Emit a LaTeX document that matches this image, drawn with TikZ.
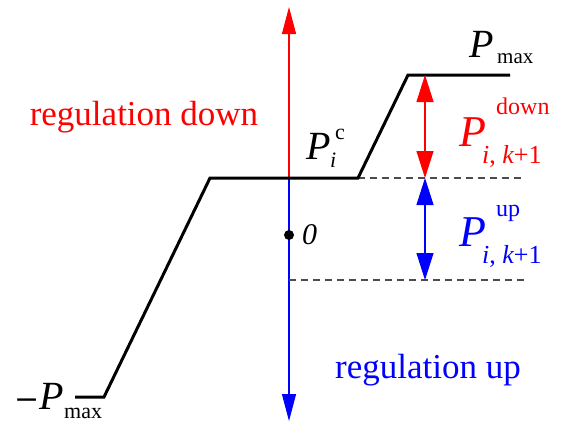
\documentclass[tikz,border=0pt]{standalone}
\usepackage{fontspec}
\setmainfont{Liberation Serif}
\usetikzlibrary{arrows.meta}
\definecolor{rd}{RGB}{255,0,0}
\definecolor{bl}{RGB}{0,0,255}
\tikzset{
  curve/.style={line width=3pt, black},
  axisline/.style={line width=1.2pt},
  guide/.style={line width=1.3pt, dashed, dash pattern=on 7pt off 5pt, black!70},
  tip/.style={-{Triangle[length=27pt,width=14pt]}},
  dtip/.style={{Triangle[length=27pt,width=17pt]}-{Triangle[length=27pt,width=17pt]}},
  big/.style={font=\fontsize{35}{38}\selectfont, inner sep=0pt},
  bigP/.style={font=\fontsize{44}{46}\selectfont\itshape, inner sep=0pt},
  midP/.style={font=\fontsize{40}{42}\selectfont\itshape, inner sep=0pt},
  scr/.style={font=\fontsize{22}{24}\selectfont, inner sep=0pt},
  sub/.style={font=\fontsize{26}{28}\selectfont, inner sep=0pt},
}
\begin{document}
\begin{tikzpicture}[x=1pt,y=-1pt]
\useasboundingbox (0,0) rectangle (561,437);
% coordinates
\coordinate (o) at (289,178);
\coordinate (top) at (289,7);
\coordinate (bot) at (289,421);
\coordinate (c1) at (75,397);
\coordinate (c2) at (104,397);
\coordinate (c3) at (210,178);
\coordinate (c4) at (358,178);
\coordinate (c5) at (408,75);
\coordinate (c6) at (510,75);
\coordinate (d1e) at (525,178);
\coordinate (d2s) at (289,280);
\coordinate (d2e) at (525,280);
\coordinate (a1) at (425,75);
\coordinate (a2) at (425,178);
\coordinate (a3) at (425,280);
% axis
\draw[axisline, rd, tip] (o) -- (top);
\draw[axisline, bl, tip] (o) -- (bot);
% dashed guides
\draw[guide] (c4) -- (d1e);
\draw[guide] (d2s) -- (d2e);
% curve
\draw[curve, line join=miter] (c1) -- (c2) -- (c3) -- (c4) -- (c5) -- (c6);
% double arrows
\draw[axisline, rd, dtip] (a1) -- (a2);
\draw[axisline, bl, dtip] (a2) -- (a3);
% origin
\fill (289,235) circle (5pt) node (zero) [anchor=west, xshift=13pt, big, font=\fontsize{30}{32}\selectfont\itshape] {0};
% texts
\node[big, rd] (rdown) at (144,117) {regulation down};
\node[big, bl] (rup) at (428,370) {regulation up};
% P_max top
\node[midP, anchor=base west] (pm) at (469,57) {P};
\node[scr, anchor=base west, font=\fontsize{21}{23}\selectfont] (pms) at (497,63) {max};
% -P_max
\node[midP, anchor=base west] (mpm) at (14,409) {\upshape\fontspec{DejaVu Serif}\fontsize{30}{32}\selectfont{}−\itshape\fontspec{Liberation Serif}\fontsize{40}{42}\selectfont P};
\node[scr, anchor=base west] (mpms) at (64,418) {max};
% P_i^c
\node[midP, anchor=base west] (pc) at (306,159) {P};
\node[scr, anchor=base west] (pcs) at (335,139) {c};
\node[scr, anchor=base west, font=\fontsize{22}{24}\selectfont\itshape] (pci) at (330,167) {i};
% P down
\node[bigP, rd, anchor=base west] (pd) at (459,146) {P};
\node[scr, rd, anchor=base west, font=\fontsize{24}{26}\selectfont] (pds) at (496,114) {down};
\node[sub, rd, anchor=base west] (pdi) at (482,163) {\itshape i\upshape, \itshape k\upshape+1};
% P up
\node[bigP, bl, anchor=base west] (pu) at (459,246) {P};
\node[scr, bl, anchor=base west, font=\fontsize{24}{26}\selectfont] (pus) at (496,216) {up};
\node[sub, bl, anchor=base west] (pui) at (482,263) {\itshape i\upshape, \itshape k\upshape+1};
\end{tikzpicture}
\end{document}
